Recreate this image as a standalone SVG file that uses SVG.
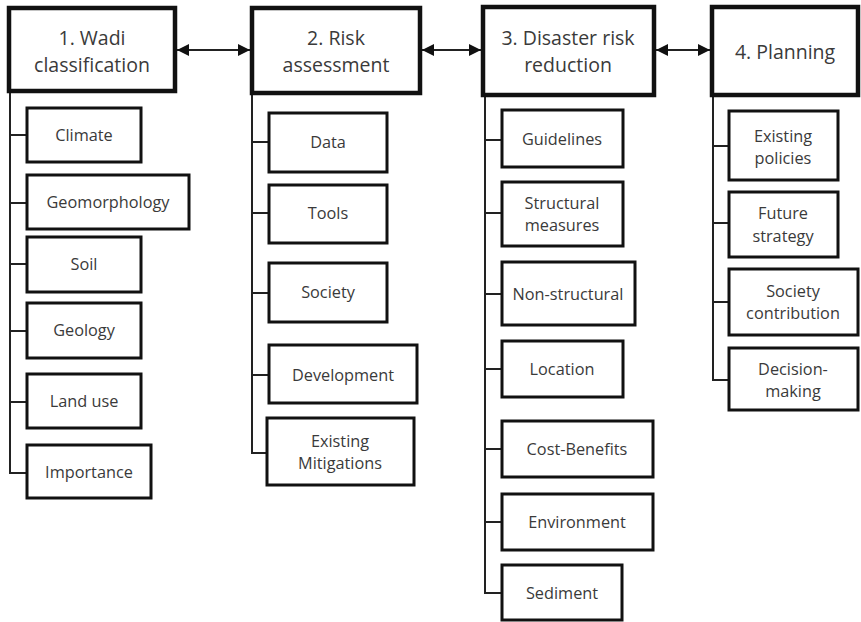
<svg xmlns="http://www.w3.org/2000/svg" width="861" height="622" viewBox="0 0 861 622">
<style>
  .main rect { fill: #fff; stroke: #111; stroke-width: 4.5; }
  .sub rect { fill: #fff; stroke: #111; stroke-width: 3; }
  text { font-family: "Open Sans", "Liberation Sans", sans-serif; fill: #3a3a3a; text-anchor: middle; }
  .main text { font-size: 19.5px; }
  .sub text { font-size: 16.3px; }
  .conn line, .conn path { stroke: #222; stroke-width: 2; fill: none; }
  .arrow { stroke: #222; stroke-width: 1.6; fill: none; marker-start: url(#ah); marker-end: url(#ah); }
</style>
<defs>
  <marker id="ah" viewBox="0 0 10 10" refX="10" refY="5" markerWidth="6" markerHeight="6" orient="auto-start-reverse" markerUnits="strokeWidth">
    <path d="M0,0 L10,5 L0,10 z" fill="#111"/>
  </marker>
</defs>
<rect width="861" height="622" fill="#fff"/>

<g class="conn" id="connectors">
  <line class="arrow" x1="177" y1="50" x2="250" y2="50"/>
  <line class="arrow" x1="422" y1="50" x2="481" y2="50"/>
  <line class="arrow" x1="656" y1="50" x2="710" y2="50"/>
  <path d="M10,91 V473 H27"/>
  <line x1="10" y1="135" x2="27" y2="135"/>
  <line x1="10" y1="203" x2="27" y2="203"/>
  <line x1="10" y1="264" x2="27" y2="264"/>
  <line x1="10" y1="331" x2="27" y2="331"/>
  <line x1="10" y1="402" x2="27" y2="402"/>
  <path d="M252,93 V453 H267"/>
  <line x1="252" y1="142" x2="269" y2="142"/>
  <line x1="252" y1="213" x2="269" y2="213"/>
  <line x1="252" y1="293" x2="269" y2="293"/>
  <line x1="252" y1="375" x2="269" y2="375"/>
  <path d="M485,95 V593 H502"/>
  <line x1="485" y1="140" x2="502" y2="140"/>
  <line x1="485" y1="213" x2="502" y2="213"/>
  <line x1="485" y1="294" x2="502" y2="294"/>
  <line x1="485" y1="369" x2="502" y2="369"/>
  <line x1="485" y1="449" x2="502" y2="449"/>
  <line x1="485" y1="522" x2="502" y2="522"/>
  <path d="M713,95 V380 H729"/>
  <line x1="713" y1="146" x2="729" y2="146"/>
  <line x1="713" y1="223" x2="729" y2="223"/>
  <line x1="713" y1="302" x2="729" y2="302"/>
</g>

<g id="n1" class="main"><rect x="9" y="8" width="166" height="83"/><text x="92" y="45">1. Wadi</text><text x="92" y="72">classification</text></g>
<g id="n2" class="main"><rect x="252" y="8" width="168" height="85"/><text x="336" y="45">2. Risk</text><text x="336" y="72">assessment</text></g>
<g id="n3" class="main"><rect x="483" y="7" width="171" height="88"/><text x="568" y="45">3. Disaster risk</text><text x="568" y="72">reduction</text></g>
<g id="n4" class="main"><rect x="712" y="7" width="146" height="88"/><text x="785" y="59">4. Planning</text></g>

<g id="c1" class="sub"><rect x="27" y="108" width="114" height="54"/><text x="84" y="141">Climate</text></g>
<g id="c2" class="sub"><rect x="27" y="175" width="162" height="54"/><text x="108" y="208">Geomorphology</text></g>
<g id="c3" class="sub"><rect x="27" y="237" width="114" height="55"/><text x="84" y="270">Soil</text></g>
<g id="c4" class="sub"><rect x="27" y="303" width="114" height="55"/><text x="84" y="336">Geology</text></g>
<g id="c5" class="sub"><rect x="27" y="374" width="114" height="54"/><text x="84" y="407">Land use</text></g>
<g id="c6" class="sub"><rect x="27" y="445" width="124" height="53"/><text x="89" y="478">Importance</text></g>

<g id="r1" class="sub"><rect x="269" y="113" width="118" height="59"/><text x="328" y="148">Data</text></g>
<g id="r2" class="sub"><rect x="269" y="185" width="118" height="58"/><text x="328" y="219">Tools</text></g>
<g id="r3" class="sub"><rect x="269" y="263" width="118" height="59"/><text x="328" y="298">Society</text></g>
<g id="r4" class="sub"><rect x="269" y="345" width="148" height="58"/><text x="343" y="381">Development</text></g>
<g id="r5" class="sub"><rect x="267" y="418" width="147" height="67"/><text x="340" y="447">Existing</text><text x="340" y="469">Mitigations</text></g>

<g id="d1" class="sub"><rect x="502" y="110" width="121" height="57"/><text x="562" y="145">Guidelines</text></g>
<g id="d2" class="sub"><rect x="502" y="182" width="121" height="64"/><text x="562" y="209">Structural</text><text x="562" y="231">measures</text></g>
<g id="d3" class="sub"><rect x="502" y="262" width="133" height="63"/><text x="568" y="300">Non-structural</text></g>
<g id="d4" class="sub"><rect x="502" y="341" width="121" height="56"/><text x="562" y="375">Location</text></g>
<g id="d5" class="sub"><rect x="502" y="421" width="151" height="56"/><text x="577" y="455">Cost-Benefits</text></g>
<g id="d6" class="sub"><rect x="502" y="494" width="151" height="56"/><text x="577" y="528">Environment</text></g>
<g id="d7" class="sub"><rect x="502" y="565" width="120" height="55"/><text x="562" y="599">Sediment</text></g>

<g id="p1" class="sub"><rect x="729" y="111" width="109" height="69"/><text x="783" y="142">Existing</text><text x="783" y="164">policies</text></g>
<g id="p2" class="sub"><rect x="729" y="192" width="109" height="65"/><text x="783" y="219">Future</text><text x="783" y="242">strategy</text></g>
<g id="p3" class="sub"><rect x="729" y="269" width="129" height="66"/><text x="793" y="297">Society</text><text x="793" y="319">contribution</text></g>
<g id="p4" class="sub"><rect x="729" y="348" width="129" height="62"/><text x="793" y="375">Decision-</text><text x="793" y="397">making</text></g>
</svg>
